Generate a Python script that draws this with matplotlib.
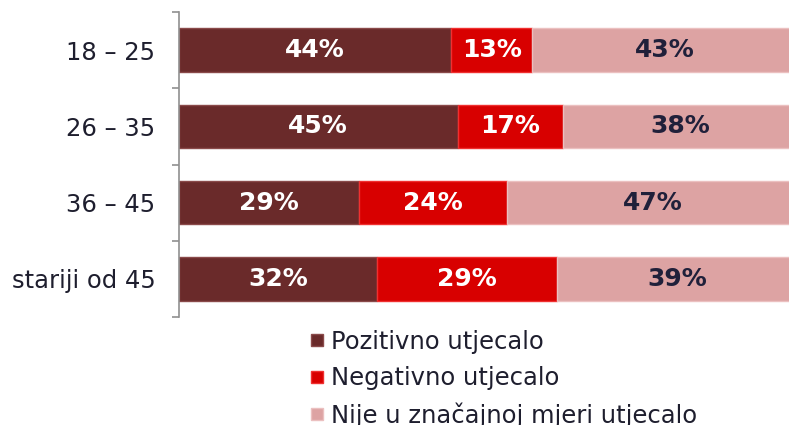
import matplotlib
matplotlib.use("Agg")
import matplotlib.pyplot as plt
from matplotlib.lines import Line2D
import numpy as np

categories = ["18 – 25", "26 – 35", "36 – 45", "stariji od 45"]
series_names = ["Pozitivno utjecalo", "Negativno utjecalo", "Nije u značajnoj mjeri utjecalo"]
pozitivno = [44, 45, 29, 32]
negativno = [13, 17, 24, 29]
nije = [43, 38, 47, 39]

colors = ["#6A2A2A", "#D80000", "#DDA3A3"]
edge_colors = ["#8A4A4A", "#F03030", "#EBC0C0"]
label_colors = ["white", "white", "#20203A"]

plt.rcParams['font.family'] = ['DejaVu Sans']

fig = plt.figure(figsize=(7.89, 4.25), dpi=100)
ax = fig.add_axes([179/789, 108/425, 619/789, 305/425])

y = np.arange(len(categories))
left = np.zeros(len(categories))
for vals, c, ec, lc, name in zip([pozitivno, negativno, nije], colors, edge_colors, label_colors, series_names):
    vals = np.array(vals, dtype=float)
    bars = ax.barh(y, vals, left=left, height=0.57, color=c, edgecolor=ec, linewidth=1.0, label=name)
    for b, v in zip(bars, vals):
        ax.text(b.get_x() + b.get_width()/2, b.get_y() + b.get_height()/2, f"{int(v)}%",
                ha='center', va='center', color=lc, fontsize=18, fontweight='bold')
    left += vals

ax.set_xlim(0, 100)
ax.set_ylim(3.5, -0.5)
ax.set_yticks(y)
ax.set_yticklabels(categories, fontsize=17.5, color="#1E1E2E")
ax.set_yticks(np.arange(-0.5, 4.0, 1.0), minor=True)
ax.tick_params(axis='y', which='major', length=0, pad=17)
ax.tick_params(axis='y', which='minor', length=5, width=1.2, color="#909090")
ax.set_xticks([])
for s in ['top', 'right', 'bottom']:
    ax.spines[s].set_visible(False)
ax.spines['left'].set_color("#909090")
ax.spines['left'].set_linewidth(1.2)

handles = [Line2D([0], [0], marker='s', linestyle='none', markersize=9,
                  markerfacecolor=c, markeredgecolor=ec) for c, ec in zip(colors, edge_colors)]
fig.legend(handles, series_names, loc='upper left', bbox_to_anchor=(310/789, 1 - 330/425),
           frameon=False, fontsize=17.5, handlelength=0.55, handletextpad=0.3,
           labelspacing=0.5, borderpad=0, borderaxespad=0, labelcolor="#1E1E2E")

fig.savefig("out.png", dpi=100)
